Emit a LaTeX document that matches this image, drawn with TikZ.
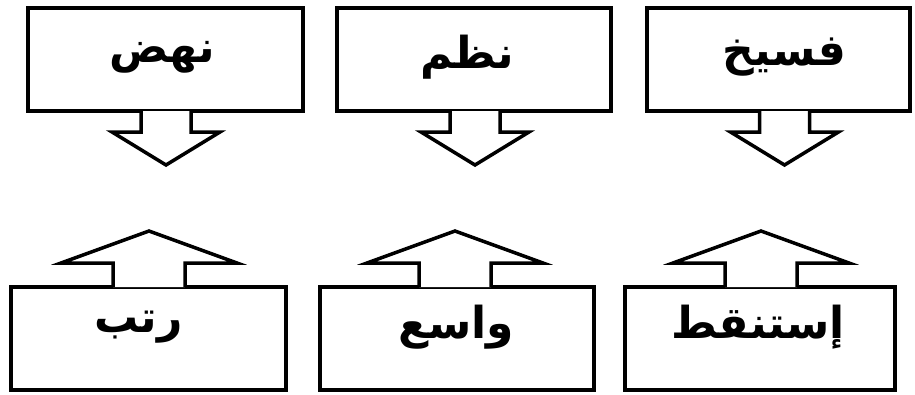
\documentclass[tikz,border=0pt]{standalone}
\usepackage{fontspec}
\newfontfamily\arabicfont[Script=Arabic]{DejaVu Sans}
\TeXXeTstate=1
\begin{document}
\begin{tikzpicture}[x=1pt,y=-1pt,
  box/.style={draw=black, line width=4pt, fill=white, rectangle, inner sep=0pt, minimum height=103pt},
  word/.style={font=\arabicfont\bfseries\fontsize{44}{50}\selectfont, inner sep=0pt},
  blockarrow/.style={draw=black, fill=white, line width=3.5pt, line join=miter}]
\useasboundingbox (0,0) rectangle (915,394);
% top boxes
\node[box, minimum width=275pt] (t1) at (165.5,59.5) {};
\node[box, minimum width=274pt] (t2) at (474,59.5) {};
\node[box, minimum width=263pt] (t3) at (778.5,59.5) {};
% bottom boxes
\node[box, minimum width=275pt] (b1) at (148.5,338.5) {};
\node[box, minimum width=274pt] (b2) at (457,338.5) {};
\node[box, minimum width=270pt] (b3) at (760,338.5) {};
% words
\node[word] (w1) at ([shift={(-3,-2)}]t1.center) {\beginR نهض\endR};
\node[word] (w2) at ([shift={(-7,-2)}]t2.center) {\beginR نظم\endR};
\node[word] (w3) at ([shift={(6,-2)}]t3.center) {\beginR فسيخ\endR};
\node[word] (w4) at ([shift={(-10,-11)}]b1.center) {\beginR رتب\endR};
\node[word] (w5) at ([shift={(-1,-11)}]b2.center) {\beginR واسع\endR};
\node[word] (w6) at ([shift={(-2,-11)}]b3.center) {\beginR إستنقط\endR};
% down arrows
\foreach \n/\dx in {t1/0.5,t2/1,t3/6}{
  \draw[blockarrow] ([shift={(\dx-25,-2)}]\n.south) -- ++(0,21) -- ++(-29,0) -- ++(54,33) -- ++(54,-33) -- ++(-29,0) -- ++(0,-21);
}
% up arrows
\foreach \n/\dx in {b1/0.5,b2/-2,b3/1}{
  \draw[blockarrow] ([shift={(\dx-36,2)}]\n.north) -- ++(0,-24) -- ++(-52,0) -- ++(88,-32) -- ++(88,32) -- ++(-52,0) -- ++(0,24);
}
\end{tikzpicture}
\end{document}
